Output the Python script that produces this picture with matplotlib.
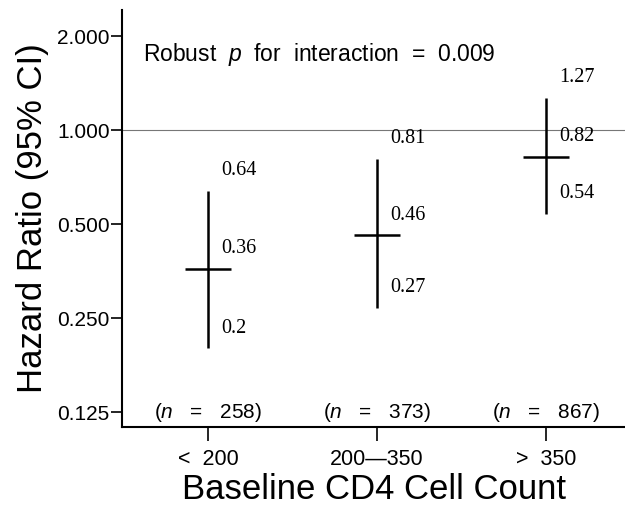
import matplotlib
matplotlib.use("Agg")
import matplotlib.pyplot as plt
from matplotlib.ticker import FixedLocator, FixedFormatter, NullLocator

plt.rcParams['font.family'] = ['Liberation Sans', 'DejaVu Sans']
plt.rcParams['mathtext.fontset'] = 'custom'
plt.rcParams['mathtext.rm'] = 'Liberation Sans'
plt.rcParams['mathtext.it'] = 'Liberation Sans:italic'

# data
groups = ["<  200", "200\u2014350", ">  350"]
hr = [0.36, 0.46, 0.82]
ci_low = [0.2, 0.27, 0.54]
ci_high = [0.64, 0.81, 1.27]
n_obs = [258, 373, 867]
y_ticks = [0.125, 0.25, 0.5, 1.0, 2.0]

fig = plt.figure(figsize=(6.25, 5.05), dpi=100)
ax = fig.add_axes([122 / 625, 78 / 505, 503 / 625, 417 / 505])

x = [1, 2, 3]
for xi, h, lo, hi in zip(x, hr, ci_low, ci_high):
    ax.plot([xi, xi], [lo, hi], color='black', lw=1.8, solid_capstyle='butt')
    ax.plot([xi - 0.137, xi + 0.137], [h, h], color='black', lw=1.8, solid_capstyle='butt')
    # value labels sit a little above each value
    for v in (hi, h, lo):
        ax.annotate(f"{v:g}", (xi, v), xytext=(13, 20), textcoords='offset pixels',
                    ha='left', va='center', fontsize=14.5, family='Liberation Serif')

for xi, n in zip(x, n_obs):
    ax.annotate(f"($n$   =   {n})", (xi, 0.125), xytext=(0, 0), textcoords='offset pixels',
                ha='center', va='center', fontsize=15)

ax.axhline(1.0, color='#777777', lw=0.8, zorder=0)

ax.set_yscale('log', base=2)
ax.set_ylim(0.125 * 2 ** (-15 / 94), 2 * 2 ** (26 / 94))
ax.yaxis.set_major_locator(FixedLocator(y_ticks))
ax.yaxis.set_major_formatter(FixedFormatter([f"{t:.3f}" for t in y_ticks]))
ax.yaxis.set_minor_locator(NullLocator())
ax.set_xlim(1 - 86 / 169, 1 - 86 / 169 + 503 / 169)
ax.set_xticks(x)
ax.set_xticklabels(groups)

for s in ['top', 'right']:
    ax.spines[s].set_visible(False)
for s in ['left', 'bottom']:
    ax.spines[s].set_linewidth(1.5)
ax.tick_params(axis='y', length=8, width=1.2, labelsize=15, pad=1)
ax.tick_params(axis='x', length=10, width=1.2, labelsize=15.5, pad=6)

ax.text((143 - 122) / 503, (505 - 55 - 78) / 417, "Robust  $p$  for  interaction  =  0.009",
        transform=ax.transAxes, ha='left', va='center', fontsize=16.5)

ax.set_ylabel("Hazard Ratio (95% CI)", fontsize=25, labelpad=6)
ax.set_xlabel("Baseline CD4 Cell Count", fontsize=25, labelpad=2)

fig.savefig("out.png", dpi=100)
